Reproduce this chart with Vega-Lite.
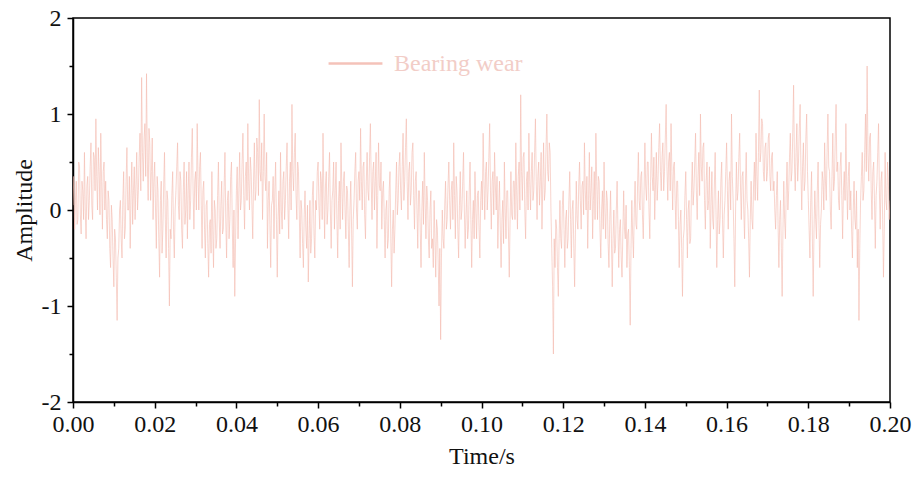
{
  "$schema": "https://vega.github.io/schema/vega-lite/v6.json",
  "width": 817,
  "height": 384,
  "autosize": {"type": "none"},
  "padding": {"left": 73, "top": 18, "right": 26, "bottom": 75},
  "background": "white",
  "config": {
    "view": {"stroke": "black", "strokeWidth": 1.5},
    "font": "Liberation Serif",
    "axis": {
      "labelFont": "Liberation Serif",
      "titleFont": "Liberation Serif",
      "labelFontSize": 24,
      "titleFontSize": 24,
      "titleFontWeight": "normal",
      "labelColor": "#111",
      "titleColor": "#111",
      "domainColor": "black",
      "domainWidth": 1.5,
      "tickColor": "black",
      "tickWidth": 1.5,
      "grid": false
    }
  },
  "datasets": {
    "signal": [
{"t":0.0000,"a":0.05},{"t":0.0002,"a":0.35},{"t":0.0004,"a":-0.2},{"t":0.0006,"a":0.1},{"t":0.0008,"a":0.3},{"t":0.0010,"a":-0.15},{"t":0.0012,"a":-0.1},{"t":0.0014,"a":0.5},{"t":0.0016,"a":0.45},{"t":0.0018,"a":-0.05},{"t":0.0020,"a":-0.25},{"t":0.0022,"a":0.3},{"t":0.0024,"a":0.2},{"t":0.0026,"a":-0.1},{"t":0.0028,"a":0.6},{"t":0.0030,"a":0.0},{"t":0.0032,"a":-0.3},{"t":0.0034,"a":0.25},{"t":0.0036,"a":0.35},{"t":0.0038,"a":-0.1},
{"t":0.0040,"a":0.1},{"t":0.0042,"a":0.45},{"t":0.0044,"a":0.7},{"t":0.0046,"a":0.05},{"t":0.0048,"a":-0.1},{"t":0.0050,"a":0.6},{"t":0.0052,"a":0.55},{"t":0.0054,"a":0.2},{"t":0.0056,"a":0.95},{"t":0.0058,"a":0.35},{"t":0.0060,"a":0.0},{"t":0.0062,"a":0.65},{"t":0.0064,"a":0.4},{"t":0.0066,"a":-0.05},{"t":0.0068,"a":0.8},{"t":0.0070,"a":0.3},{"t":0.0072,"a":-0.2},{"t":0.0074,"a":0.4},{"t":0.0076,"a":0.5},{"t":0.0078,"a":0.0},
{"t":0.0080,"a":0.3},{"t":0.0082,"a":-0.1},{"t":0.0084,"a":-0.3},{"t":0.0086,"a":0.2},{"t":0.0088,"a":0.1},{"t":0.0090,"a":-0.4},{"t":0.0092,"a":-0.6},{"t":0.0094,"a":0.05},{"t":0.0096,"a":-0.1},{"t":0.0098,"a":-0.5},{"t":0.0100,"a":-0.8},{"t":0.0102,"a":-0.2},{"t":0.0104,"a":-0.3},{"t":0.0106,"a":-0.7},{"t":0.0108,"a":-1.15},{"t":0.0110,"a":-0.5},{"t":0.0112,"a":-0.4},{"t":0.0114,"a":0.0},{"t":0.0116,"a":0.1},{"t":0.0118,"a":-0.3},
{"t":0.0120,"a":-0.5},{"t":0.0122,"a":0.1},{"t":0.0124,"a":0.4},{"t":0.0126,"a":-0.3},{"t":0.0128,"a":-0.2},{"t":0.0130,"a":0.3},{"t":0.0132,"a":0.65},{"t":0.0134,"a":0.0},{"t":0.0136,"a":0.0},{"t":0.0138,"a":0.35},{"t":0.0140,"a":-0.4},{"t":0.0142,"a":0.15},{"t":0.0144,"a":0.5},{"t":0.0146,"a":-0.15},{"t":0.0148,"a":0.2},{"t":0.0150,"a":0.45},{"t":0.0152,"a":-0.1},{"t":0.0154,"a":0.25},{"t":0.0156,"a":0.6},{"t":0.0158,"a":0.0},
{"t":0.0160,"a":0.2},{"t":0.0162,"a":0.55},{"t":0.0164,"a":0.8},{"t":0.0166,"a":0.2},{"t":0.0168,"a":1.38},{"t":0.0170,"a":0.6},{"t":0.0172,"a":0.3},{"t":0.0174,"a":0.75},{"t":0.0176,"a":0.9},{"t":0.0178,"a":0.35},{"t":0.0180,"a":1.42},{"t":0.0182,"a":0.5},{"t":0.0184,"a":0.1},{"t":0.0186,"a":0.85},{"t":0.0188,"a":0.7},{"t":0.0190,"a":0.1},{"t":0.0192,"a":0.4},{"t":0.0194,"a":0.75},{"t":0.0196,"a":-0.1},{"t":0.0198,"a":0.3},
{"t":0.0200,"a":0.5},{"t":0.0202,"a":0.0},{"t":0.0204,"a":-0.4},{"t":0.0206,"a":0.35},{"t":0.0208,"a":0.2},{"t":0.0210,"a":-0.3},{"t":0.0212,"a":-0.7},{"t":0.0214,"a":0.1},{"t":0.0216,"a":0.3},{"t":0.0218,"a":-0.45},{"t":0.0220,"a":-0.2},{"t":0.0222,"a":0.25},{"t":0.0224,"a":0.6},{"t":0.0226,"a":-0.1},{"t":0.0228,"a":-0.5},{"t":0.0230,"a":0.2},{"t":0.0232,"a":0.1},{"t":0.0234,"a":-0.4},{"t":0.0236,"a":-1.0},{"t":0.0238,"a":-0.2},
{"t":0.0240,"a":-0.3},{"t":0.0242,"a":0.15},{"t":0.0244,"a":0.4},{"t":0.0246,"a":-0.2},{"t":0.0248,"a":-0.5},{"t":0.0250,"a":0.0},{"t":0.0252,"a":0.2},{"t":0.0254,"a":0.45},{"t":0.0256,"a":0.7},{"t":0.0258,"a":0.05},{"t":0.0260,"a":-0.1},{"t":0.0262,"a":0.4},{"t":0.0264,"a":0.3},{"t":0.0266,"a":-0.2},{"t":0.0268,"a":-0.4},{"t":0.0270,"a":0.2},{"t":0.0272,"a":0.5},{"t":0.0274,"a":-0.15},{"t":0.0276,"a":0.0},{"t":0.0278,"a":0.4},
{"t":0.0280,"a":-0.3},{"t":0.0282,"a":0.2},{"t":0.0284,"a":0.5},{"t":0.0286,"a":-0.1},{"t":0.0288,"a":0.1},{"t":0.0290,"a":0.55},{"t":0.0292,"a":0.85},{"t":0.0294,"a":0.2},{"t":0.0296,"a":-0.2},{"t":0.0298,"a":0.3},{"t":0.0300,"a":0.4},{"t":0.0302,"a":0.0},{"t":0.0304,"a":0.9},{"t":0.0306,"a":0.35},{"t":0.0308,"a":0.0},{"t":0.0310,"a":0.45},{"t":0.0312,"a":0.6},{"t":0.0314,"a":0.05},{"t":0.0316,"a":-0.4},{"t":0.0318,"a":0.2},
{"t":0.0320,"a":0.3},{"t":0.0322,"a":-0.2},{"t":0.0324,"a":-0.5},{"t":0.0326,"a":0.05},{"t":0.0328,"a":0.1},{"t":0.0330,"a":-0.35},{"t":0.0332,"a":-0.7},{"t":0.0334,"a":-0.15},{"t":0.0336,"a":-0.1},{"t":0.0338,"a":-0.45},{"t":0.0340,"a":0.4},{"t":0.0342,"a":-0.2},{"t":0.0344,"a":-0.6},{"t":0.0346,"a":0.1},{"t":0.0348,"a":0.0},{"t":0.0350,"a":-0.4},{"t":0.0352,"a":-0.3},{"t":0.0354,"a":0.15},{"t":0.0356,"a":0.5},{"t":0.0358,"a":-0.1},
{"t":0.0360,"a":-0.4},{"t":0.0362,"a":0.05},{"t":0.0364,"a":0.3},{"t":0.0366,"a":-0.25},{"t":0.0368,"a":-0.2},{"t":0.0370,"a":0.25},{"t":0.0372,"a":0.6},{"t":0.0374,"a":-0.1},{"t":0.0376,"a":-0.5},{"t":0.0378,"a":0.1},{"t":0.0380,"a":0.2},{"t":0.0382,"a":-0.3},{"t":0.0384,"a":-0.1},{"t":0.0386,"a":0.35},{"t":0.0388,"a":0.5},{"t":0.0390,"a":-0.2},{"t":0.0392,"a":-0.6},{"t":0.0394,"a":0.0},{"t":0.0396,"a":-0.9},{"t":0.0398,"a":-0.3},
{"t":0.0400,"a":0.2},{"t":0.0402,"a":0.45},{"t":0.0404,"a":-0.3},{"t":0.0406,"a":0.2},{"t":0.0408,"a":0.6},{"t":0.0410,"a":0.0},{"t":0.0412,"a":0.1},{"t":0.0414,"a":0.5},{"t":0.0416,"a":0.8},{"t":0.0418,"a":0.15},{"t":0.0420,"a":-0.2},{"t":0.0422,"a":0.35},{"t":0.0424,"a":0.5},{"t":0.0426,"a":0.1},{"t":0.0428,"a":0.9},{"t":0.0430,"a":0.3},{"t":0.0432,"a":0.0},{"t":0.0434,"a":0.55},{"t":0.0436,"a":0.4},{"t":0.0438,"a":0.05},
{"t":0.0440,"a":-0.3},{"t":0.0442,"a":0.3},{"t":0.0444,"a":0.7},{"t":0.0446,"a":0.1},{"t":0.0448,"a":0.2},{"t":0.0450,"a":0.75},{"t":0.0452,"a":0.6},{"t":0.0454,"a":0.15},{"t":0.0456,"a":1.15},{"t":0.0458,"a":0.4},{"t":0.0460,"a":0.3},{"t":0.0462,"a":0.7},{"t":0.0464,"a":-0.1},{"t":0.0466,"a":0.4},{"t":0.0468,"a":1.0},{"t":0.0470,"a":0.35},{"t":0.0472,"a":0.2},{"t":0.0474,"a":0.6},{"t":0.0476,"a":-0.4},{"t":0.0478,"a":0.1},
{"t":0.0480,"a":0.3},{"t":0.0482,"a":-0.15},{"t":0.0484,"a":-0.6},{"t":0.0486,"a":0.05},{"t":0.0488,"a":0.1},{"t":0.0490,"a":0.35},{"t":0.0492,"a":-0.3},{"t":0.0494,"a":0.2},{"t":0.0496,"a":0.5},{"t":0.0498,"a":-0.1},{"t":0.0500,"a":-0.7},{"t":0.0502,"a":-0.1},{"t":0.0504,"a":0.2},{"t":0.0506,"a":-0.25},{"t":0.0508,"a":0.6},{"t":0.0510,"a":0.0},{"t":0.0512,"a":-0.2},{"t":0.0514,"a":0.3},{"t":0.0516,"a":0.4},{"t":0.0518,"a":-0.1},
{"t":0.0520,"a":0.1},{"t":0.0522,"a":0.45},{"t":0.0524,"a":0.7},{"t":0.0526,"a":0.05},{"t":0.0528,"a":-0.3},{"t":0.0530,"a":0.3},{"t":0.0532,"a":0.5},{"t":0.0534,"a":0.0},{"t":0.0536,"a":1.1},{"t":0.0538,"a":0.4},{"t":0.0540,"a":0.2},{"t":0.0542,"a":0.6},{"t":0.0544,"a":0.8},{"t":0.0546,"a":0.15},{"t":0.0548,"a":-0.1},{"t":0.0550,"a":0.5},{"t":0.0552,"a":0.4},{"t":0.0554,"a":-0.05},{"t":0.0556,"a":-0.5},{"t":0.0558,"a":0.1},
{"t":0.0560,"a":0.0},{"t":0.0562,"a":-0.35},{"t":0.0564,"a":-0.6},{"t":0.0566,"a":-0.05},{"t":0.0568,"a":0.2},{"t":0.0570,"a":-0.2},{"t":0.0572,"a":-0.4},{"t":0.0574,"a":0.05},{"t":0.0576,"a":-0.75},{"t":0.0578,"a":-0.3},{"t":0.0580,"a":0.1},{"t":0.0582,"a":-0.45},{"t":0.0584,"a":-0.3},{"t":0.0586,"a":0.15},{"t":0.0588,"a":0.3},{"t":0.0590,"a":-0.25},{"t":0.0592,"a":-0.5},{"t":0.0594,"a":0.1},{"t":0.0596,"a":0.0},{"t":0.0598,"a":0.4},
{"t":0.0600,"a":0.5},{"t":0.0602,"a":0.05},{"t":0.0604,"a":-0.2},{"t":0.0606,"a":0.4},{"t":0.0608,"a":0.3},{"t":0.0610,"a":-0.1},{"t":0.0612,"a":0.8},{"t":0.0614,"a":0.2},{"t":0.0616,"a":-0.3},{"t":0.0618,"a":0.25},{"t":0.0620,"a":0.4},{"t":0.0622,"a":-0.15},{"t":0.0624,"a":0.0},{"t":0.0626,"a":0.35},{"t":0.0628,"a":0.6},{"t":0.0630,"a":0.0},{"t":0.0632,"a":-0.4},{"t":0.0634,"a":0.1},{"t":0.0636,"a":0.2},{"t":0.0638,"a":0.5},
{"t":0.0640,"a":-0.2},{"t":0.0642,"a":0.2},{"t":0.0644,"a":0.5},{"t":0.0646,"a":-0.1},{"t":0.0648,"a":-0.5},{"t":0.0650,"a":0.1},{"t":0.0652,"a":0.3},{"t":0.0654,"a":-0.2},{"t":0.0656,"a":0.7},{"t":0.0658,"a":0.25},{"t":0.0660,"a":-0.1},{"t":0.0662,"a":0.3},{"t":0.0664,"a":0.4},{"t":0.0666,"a":0.0},{"t":0.0668,"a":-0.3},{"t":0.0670,"a":0.25},{"t":0.0672,"a":0.2},{"t":0.0674,"a":-0.2},{"t":0.0676,"a":-0.6},{"t":0.0678,"a":0.0},
{"t":0.0680,"a":0.3},{"t":0.0682,"a":-0.2},{"t":0.0684,"a":-0.8},{"t":0.0686,"a":-0.1},{"t":0.0688,"a":0.1},{"t":0.0690,"a":0.4},{"t":0.0692,"a":0.6},{"t":0.0694,"a":0.0},{"t":0.0696,"a":-0.2},{"t":0.0698,"a":0.3},{"t":0.0700,"a":0.4},{"t":0.0702,"a":0.1},{"t":0.0704,"a":0.85},{"t":0.0706,"a":0.3},{"t":0.0708,"a":0.0},{"t":0.0710,"a":0.45},{"t":0.0712,"a":0.5},{"t":0.0714,"a":-0.05},{"t":0.0716,"a":-0.3},{"t":0.0718,"a":0.3},
{"t":0.0720,"a":0.6},{"t":0.0722,"a":0.2},{"t":0.0724,"a":0.1},{"t":0.0726,"a":0.55},{"t":0.0728,"a":0.9},{"t":0.0730,"a":0.3},{"t":0.0732,"a":-0.1},{"t":0.0734,"a":0.4},{"t":0.0736,"a":0.5},{"t":0.0738,"a":0.0},{"t":0.0740,"a":0.3},{"t":0.0742,"a":0.6},{"t":0.0744,"a":-0.4},{"t":0.0746,"a":0.15},{"t":0.0748,"a":0.7},{"t":0.0750,"a":0.25},{"t":0.0752,"a":0.2},{"t":0.0754,"a":0.5},{"t":0.0756,"a":-0.2},{"t":0.0758,"a":0.2},
{"t":0.0760,"a":0.3},{"t":0.0762,"a":-0.1},{"t":0.0764,"a":-0.5},{"t":0.0766,"a":0.0},{"t":0.0768,"a":0.1},{"t":0.0770,"a":-0.4},{"t":0.0772,"a":-0.3},{"t":0.0774,"a":0.2},{"t":0.0776,"a":0.4},{"t":0.0778,"a":-0.3},{"t":0.0780,"a":-0.8},{"t":0.0782,"a":-0.2},{"t":0.0784,"a":0.0},{"t":0.0786,"a":-0.45},{"t":0.0788,"a":-0.2},{"t":0.0790,"a":0.2},{"t":0.0792,"a":0.5},{"t":0.0794,"a":-0.05},{"t":0.0796,"a":0.1},{"t":0.0798,"a":0.45},
{"t":0.0800,"a":0.6},{"t":0.0802,"a":0.2},{"t":0.0804,"a":0.0},{"t":0.0806,"a":0.45},{"t":0.0808,"a":0.8},{"t":0.0810,"a":0.1},{"t":0.0812,"a":0.3},{"t":0.0814,"a":0.65},{"t":0.0816,"a":0.95},{"t":0.0818,"a":0.3},{"t":0.0820,"a":-0.1},{"t":0.0822,"a":0.4},{"t":0.0824,"a":0.5},{"t":0.0826,"a":0.05},{"t":0.0828,"a":0.2},{"t":0.0830,"a":0.6},{"t":0.0832,"a":0.7},{"t":0.0834,"a":0.15},{"t":0.0836,"a":-0.2},{"t":0.0838,"a":0.3},
{"t":0.0840,"a":0.4},{"t":0.0842,"a":0.0},{"t":0.0844,"a":-0.4},{"t":0.0846,"a":0.2},{"t":0.0848,"a":0.2},{"t":0.0850,"a":-0.2},{"t":0.0852,"a":-0.6},{"t":0.0854,"a":0.0},{"t":0.0856,"a":0.3},{"t":0.0858,"a":-0.15},{"t":0.0860,"a":0.6},{"t":0.0862,"a":0.1},{"t":0.0864,"a":-0.3},{"t":0.0866,"a":0.25},{"t":0.0868,"a":0.1},{"t":0.0870,"a":-0.3},{"t":0.0872,"a":-0.5},{"t":0.0874,"a":0.0},{"t":0.0876,"a":0.2},{"t":0.0878,"a":-0.4},
{"t":0.0880,"a":-0.3},{"t":0.0882,"a":-0.6},{"t":0.0884,"a":0.1},{"t":0.0886,"a":-0.3},{"t":0.0888,"a":-0.7},{"t":0.0890,"a":-0.1},{"t":0.0892,"a":-0.2},{"t":0.0894,"a":-0.55},{"t":0.0896,"a":-1.0},{"t":0.0898,"a":-0.4},{"t":0.0900,"a":-1.35},{"t":0.0902,"a":-0.5},{"t":0.0904,"a":0.0},{"t":0.0906,"a":-0.3},{"t":0.0908,"a":-0.4},{"t":0.0910,"a":0.05},{"t":0.0912,"a":0.3},{"t":0.0914,"a":-0.2},{"t":0.0916,"a":-0.1},{"t":0.0918,"a":0.25},
{"t":0.0920,"a":0.5},{"t":0.0922,"a":0.1},{"t":0.0924,"a":-0.2},{"t":0.0926,"a":0.2},{"t":0.0928,"a":0.3},{"t":0.0930,"a":-0.1},{"t":0.0932,"a":0.7},{"t":0.0934,"a":0.15},{"t":0.0936,"a":-0.3},{"t":0.0938,"a":0.35},{"t":0.0940,"a":0.2},{"t":0.0942,"a":-0.2},{"t":0.0944,"a":-0.5},{"t":0.0946,"a":0.05},{"t":0.0948,"a":0.4},{"t":0.0950,"a":-0.1},{"t":0.0952,"a":0.0},{"t":0.0954,"a":0.3},{"t":0.0956,"a":0.6},{"t":0.0958,"a":0.0},
{"t":0.0960,"a":-0.4},{"t":0.0962,"a":-0.05},{"t":0.0964,"a":0.2},{"t":0.0966,"a":-0.3},{"t":0.0968,"a":-0.2},{"t":0.0970,"a":0.2},{"t":0.0972,"a":0.5},{"t":0.0974,"a":-0.1},{"t":0.0976,"a":-0.6},{"t":0.0978,"a":-0.1},{"t":0.0980,"a":0.1},{"t":0.0982,"a":-0.3},{"t":0.0984,"a":0.4},{"t":0.0986,"a":0.0},{"t":0.0988,"a":-0.3},{"t":0.0990,"a":0.15},{"t":0.0992,"a":0.2},{"t":0.0994,"a":-0.2},{"t":0.0996,"a":-0.5},{"t":0.0998,"a":0.1},
{"t":0.1000,"a":0.3},{"t":0.1002,"a":0.0},{"t":0.1004,"a":0.8},{"t":0.1006,"a":0.3},{"t":0.1008,"a":-0.1},{"t":0.1010,"a":0.4},{"t":0.1012,"a":0.5},{"t":0.1014,"a":0.0},{"t":0.1016,"a":0.2},{"t":0.1018,"a":0.55},{"t":0.1020,"a":0.9},{"t":0.1022,"a":0.2},{"t":0.1024,"a":-0.2},{"t":0.1026,"a":0.3},{"t":0.1028,"a":0.4},{"t":0.1030,"a":-0.05},{"t":0.1032,"a":0.6},{"t":0.1034,"a":0.25},{"t":0.1036,"a":0.0},{"t":0.1038,"a":0.35},
{"t":0.1040,"a":-0.4},{"t":0.1042,"a":0.0},{"t":0.1044,"a":0.3},{"t":0.1046,"a":-0.2},{"t":0.1048,"a":-0.6},{"t":0.1050,"a":-0.1},{"t":0.1052,"a":0.1},{"t":0.1054,"a":-0.35},{"t":0.1056,"a":0.5},{"t":0.1058,"a":0.0},{"t":0.1060,"a":-0.3},{"t":0.1062,"a":0.2},{"t":0.1064,"a":0.2},{"t":0.1066,"a":-0.25},{"t":0.1068,"a":-0.7},{"t":0.1070,"a":-0.1},{"t":0.1072,"a":0.4},{"t":0.1074,"a":-0.05},{"t":0.1076,"a":-0.1},{"t":0.1078,"a":0.3},
{"t":0.1080,"a":0.3},{"t":0.1082,"a":-0.1},{"t":0.1084,"a":0.7},{"t":0.1086,"a":0.2},{"t":0.1088,"a":-0.2},{"t":0.1090,"a":0.35},{"t":0.1092,"a":0.5},{"t":0.1094,"a":0.0},{"t":0.1096,"a":1.2},{"t":0.1098,"a":0.4},{"t":0.1100,"a":0.1},{"t":0.1102,"a":0.55},{"t":0.1104,"a":0.6},{"t":0.1106,"a":0.0},{"t":0.1108,"a":-0.3},{"t":0.1110,"a":0.3},{"t":0.1112,"a":0.4},{"t":0.1114,"a":0.0},{"t":0.1116,"a":0.8},{"t":0.1118,"a":0.3},
{"t":0.1120,"a":0.0},{"t":0.1122,"a":0.4},{"t":0.1124,"a":0.6},{"t":0.1126,"a":0.1},{"t":0.1128,"a":0.2},{"t":0.1130,"a":0.6},{"t":0.1132,"a":0.95},{"t":0.1134,"a":0.3},{"t":0.1136,"a":-0.1},{"t":0.1138,"a":0.35},{"t":0.1140,"a":0.5},{"t":0.1142,"a":0.05},{"t":0.1144,"a":0.3},{"t":0.1146,"a":0.6},{"t":0.1148,"a":-0.2},{"t":0.1150,"a":0.25},{"t":0.1152,"a":0.7},{"t":0.1154,"a":0.1},{"t":0.1156,"a":0.2},{"t":0.1158,"a":0.65},
{"t":0.1160,"a":1.0},{"t":0.1162,"a":0.4},{"t":0.1164,"a":0.3},{"t":0.1166,"a":0.7},{"t":0.1168,"a":0.6},{"t":0.1170,"a":0.0},{"t":0.1172,"a":-0.4},{"t":0.1174,"a":-0.8},{"t":0.1176,"a":-1.5},{"t":0.1178,"a":-0.3},{"t":0.1180,"a":-0.6},{"t":0.1182,"a":-0.1},{"t":0.1184,"a":-0.2},{"t":0.1186,"a":-0.6},{"t":0.1188,"a":-0.9},{"t":0.1190,"a":-0.3},{"t":0.1192,"a":0.1},{"t":0.1194,"a":-0.3},{"t":0.1196,"a":-0.4},{"t":0.1198,"a":0.05},
{"t":0.1200,"a":0.2},{"t":0.1202,"a":-0.2},{"t":0.1204,"a":-0.6},{"t":0.1206,"a":-0.1},{"t":0.1208,"a":0.0},{"t":0.1210,"a":-0.4},{"t":0.1212,"a":-0.3},{"t":0.1214,"a":0.1},{"t":0.1216,"a":0.4},{"t":0.1218,"a":-0.1},{"t":0.1220,"a":-0.5},{"t":0.1222,"a":0.0},{"t":0.1224,"a":0.1},{"t":0.1226,"a":-0.4},{"t":0.1228,"a":-0.8},{"t":0.1230,"a":-0.2},{"t":0.1232,"a":0.3},{"t":0.1234,"a":-0.1},{"t":0.1236,"a":-0.2},{"t":0.1238,"a":0.25},
{"t":0.1240,"a":0.5},{"t":0.1242,"a":0.1},{"t":0.1244,"a":-0.2},{"t":0.1246,"a":0.25},{"t":0.1248,"a":0.3},{"t":0.1250,"a":-0.05},{"t":0.1252,"a":0.7},{"t":0.1254,"a":0.2},{"t":0.1256,"a":0.0},{"t":0.1258,"a":0.35},{"t":0.1260,"a":-0.4},{"t":0.1262,"a":0.1},{"t":0.1264,"a":0.6},{"t":0.1266,"a":0.0},{"t":0.1268,"a":0.2},{"t":0.1270,"a":0.45},{"t":0.1272,"a":-0.3},{"t":0.1274,"a":0.1},{"t":0.1276,"a":0.4},{"t":0.1278,"a":-0.1},
{"t":0.1280,"a":0.8},{"t":0.1282,"a":0.3},{"t":0.1284,"a":-0.1},{"t":0.1286,"a":0.35},{"t":0.1288,"a":0.3},{"t":0.1290,"a":-0.2},{"t":0.1292,"a":-0.5},{"t":0.1294,"a":0.0},{"t":0.1296,"a":0.2},{"t":0.1298,"a":-0.2},{"t":0.1300,"a":0.5},{"t":0.1302,"a":0.0},{"t":0.1304,"a":-0.3},{"t":0.1306,"a":0.2},{"t":0.1308,"a":0.1},{"t":0.1310,"a":-0.35},{"t":0.1312,"a":-0.6},{"t":0.1314,"a":-0.1},{"t":0.1316,"a":0.2},{"t":0.1318,"a":-0.3},
{"t":0.1320,"a":-0.8},{"t":0.1322,"a":-0.3},{"t":0.1324,"a":0.0},{"t":0.1326,"a":-0.45},{"t":0.1328,"a":-0.4},{"t":0.1330,"a":0.0},{"t":0.1332,"a":0.3},{"t":0.1334,"a":-0.2},{"t":0.1336,"a":-0.6},{"t":0.1338,"a":-0.2},{"t":0.1340,"a":-0.1},{"t":0.1342,"a":-0.5},{"t":0.1344,"a":-0.7},{"t":0.1346,"a":-0.25},{"t":0.1348,"a":0.2},{"t":0.1350,"a":-0.2},{"t":0.1352,"a":-0.3},{"t":0.1354,"a":0.05},{"t":0.1356,"a":-0.6},{"t":0.1358,"a":-0.25},
{"t":0.1360,"a":-0.2},{"t":0.1362,"a":-0.6},{"t":0.1364,"a":-1.2},{"t":0.1366,"a":-0.4},{"t":0.1368,"a":0.1},{"t":0.1370,"a":-0.25},{"t":0.1372,"a":-0.5},{"t":0.1374,"a":0.0},{"t":0.1376,"a":0.3},{"t":0.1378,"a":-0.15},{"t":0.1380,"a":-0.2},{"t":0.1382,"a":0.25},{"t":0.1384,"a":0.6},{"t":0.1386,"a":0.1},{"t":0.1388,"a":0.0},{"t":0.1390,"a":0.35},{"t":0.1392,"a":0.4},{"t":0.1394,"a":-0.05},{"t":0.1396,"a":-0.3},{"t":0.1398,"a":0.2},
{"t":0.1400,"a":0.7},{"t":0.1402,"a":0.25},{"t":0.1404,"a":0.1},{"t":0.1406,"a":0.5},{"t":0.1408,"a":0.5},{"t":0.1410,"a":0.0},{"t":0.1412,"a":-0.3},{"t":0.1414,"a":0.3},{"t":0.1416,"a":0.8},{"t":0.1418,"a":0.35},{"t":0.1420,"a":0.2},{"t":0.1422,"a":0.55},{"t":0.1424,"a":-0.1},{"t":0.1426,"a":0.25},{"t":0.1428,"a":0.6},{"t":0.1430,"a":0.1},{"t":0.1432,"a":0.3},{"t":0.1434,"a":0.65},{"t":0.1436,"a":0.9},{"t":0.1438,"a":0.4},
{"t":0.1440,"a":0.2},{"t":0.1442,"a":0.55},{"t":0.1444,"a":0.7},{"t":0.1446,"a":0.2},{"t":0.1448,"a":0.4},{"t":0.1450,"a":0.75},{"t":0.1452,"a":1.1},{"t":0.1454,"a":0.45},{"t":0.1456,"a":0.1},{"t":0.1458,"a":0.5},{"t":0.1460,"a":0.6},{"t":0.1462,"a":0.2},{"t":0.1464,"a":0.9},{"t":0.1466,"a":0.4},{"t":0.1468,"a":0.0},{"t":0.1470,"a":0.45},{"t":0.1472,"a":0.5},{"t":0.1474,"a":0.1},{"t":0.1476,"a":-0.2},{"t":0.1478,"a":0.3},
{"t":0.1480,"a":0.3},{"t":0.1482,"a":-0.1},{"t":0.1484,"a":-0.6},{"t":0.1486,"a":-0.15},{"t":0.1488,"a":0.0},{"t":0.1490,"a":-0.4},{"t":0.1492,"a":-0.9},{"t":0.1494,"a":-0.3},{"t":0.1496,"a":-0.2},{"t":0.1498,"a":0.15},{"t":0.1500,"a":0.4},{"t":0.1502,"a":-0.1},{"t":0.1504,"a":-0.5},{"t":0.1506,"a":0.0},{"t":0.1508,"a":0.1},{"t":0.1510,"a":-0.35},{"t":0.1512,"a":-0.3},{"t":0.1514,"a":0.2},{"t":0.1516,"a":0.5},{"t":0.1518,"a":0.05},
{"t":0.1520,"a":0.2},{"t":0.1522,"a":0.5},{"t":0.1524,"a":0.8},{"t":0.1526,"a":0.2},{"t":0.1528,"a":-0.1},{"t":0.1530,"a":0.35},{"t":0.1532,"a":0.6},{"t":0.1534,"a":0.15},{"t":0.1536,"a":1.0},{"t":0.1538,"a":0.45},{"t":0.1540,"a":0.3},{"t":0.1542,"a":0.65},{"t":0.1544,"a":0.7},{"t":0.1546,"a":0.1},{"t":0.1548,"a":-0.2},{"t":0.1550,"a":0.3},{"t":0.1552,"a":0.5},{"t":0.1554,"a":0.0},{"t":0.1556,"a":0.1},{"t":0.1558,"a":0.45},
{"t":0.1560,"a":-0.4},{"t":0.1562,"a":0.05},{"t":0.1564,"a":0.4},{"t":0.1566,"a":-0.1},{"t":0.1568,"a":-0.2},{"t":0.1570,"a":0.25},{"t":0.1572,"a":0.6},{"t":0.1574,"a":0.0},{"t":0.1576,"a":-0.6},{"t":0.1578,"a":-0.1},{"t":0.1580,"a":0.2},{"t":0.1582,"a":-0.25},{"t":0.1584,"a":-0.1},{"t":0.1586,"a":0.3},{"t":0.1588,"a":0.5},{"t":0.1590,"a":-0.1},{"t":0.1592,"a":-0.5},{"t":0.1594,"a":-0.05},{"t":0.1596,"a":0.1},{"t":0.1598,"a":0.4},
{"t":0.1600,"a":0.7},{"t":0.1602,"a":0.2},{"t":0.1604,"a":-0.2},{"t":0.1606,"a":0.3},{"t":0.1608,"a":0.4},{"t":0.1610,"a":0.0},{"t":0.1612,"a":1.0},{"t":0.1614,"a":0.35},{"t":0.1616,"a":0.1},{"t":0.1618,"a":-0.3},{"t":0.1620,"a":-0.8},{"t":0.1622,"a":0.0},{"t":0.1624,"a":0.5},{"t":0.1626,"a":0.1},{"t":0.1628,"a":0.2},{"t":0.1630,"a":0.55},{"t":0.1632,"a":0.8},{"t":0.1634,"a":0.25},{"t":0.1636,"a":-0.1},{"t":0.1638,"a":0.35},
{"t":0.1640,"a":0.4},{"t":0.1642,"a":0.0},{"t":0.1644,"a":-0.3},{"t":0.1646,"a":0.25},{"t":0.1648,"a":0.6},{"t":0.1650,"a":0.1},{"t":0.1652,"a":0.0},{"t":0.1654,"a":-0.3},{"t":0.1656,"a":-0.7},{"t":0.1658,"a":-0.1},{"t":0.1660,"a":0.3},{"t":0.1662,"a":-0.1},{"t":0.1664,"a":-0.2},{"t":0.1666,"a":0.25},{"t":0.1668,"a":0.5},{"t":0.1670,"a":0.1},{"t":0.1672,"a":0.8},{"t":0.1674,"a":0.35},{"t":0.1676,"a":0.1},{"t":0.1678,"a":0.6},
{"t":0.1680,"a":1.25},{"t":0.1682,"a":0.5},{"t":0.1684,"a":0.6},{"t":0.1686,"a":0.95},{"t":0.1688,"a":0.9},{"t":0.1690,"a":0.4},{"t":0.1692,"a":0.3},{"t":0.1694,"a":0.65},{"t":0.1696,"a":0.7},{"t":0.1698,"a":0.3},{"t":0.1700,"a":0.4},{"t":0.1702,"a":0.75},{"t":0.1704,"a":0.8},{"t":0.1706,"a":0.35},{"t":0.1708,"a":0.2},{"t":0.1710,"a":0.55},{"t":0.1712,"a":0.6},{"t":0.1714,"a":0.2},{"t":0.1716,"a":0.3},{"t":0.1718,"a":0.0},
{"t":0.1720,"a":-0.2},{"t":0.1722,"a":0.15},{"t":0.1724,"a":0.4},{"t":0.1726,"a":-0.15},{"t":0.1728,"a":-0.6},{"t":0.1730,"a":-0.1},{"t":0.1732,"a":0.1},{"t":0.1734,"a":-0.4},{"t":0.1736,"a":-0.9},{"t":0.1738,"a":-0.2},{"t":0.1740,"a":0.3},{"t":0.1742,"a":-0.1},{"t":0.1744,"a":-0.3},{"t":0.1746,"a":0.2},{"t":0.1748,"a":0.5},{"t":0.1750,"a":0.0},{"t":0.1752,"a":0.2},{"t":0.1754,"a":0.55},{"t":0.1756,"a":0.8},{"t":0.1758,"a":0.3},
{"t":0.1760,"a":0.4},{"t":0.1762,"a":0.8},{"t":0.1764,"a":1.3},{"t":0.1766,"a":0.5},{"t":0.1768,"a":0.2},{"t":0.1770,"a":0.6},{"t":0.1772,"a":0.9},{"t":0.1774,"a":0.3},{"t":0.1776,"a":0.5},{"t":0.1778,"a":0.85},{"t":0.1780,"a":1.1},{"t":0.1782,"a":0.4},{"t":0.1784,"a":0.0},{"t":0.1786,"a":0.45},{"t":0.1788,"a":0.7},{"t":0.1790,"a":0.2},{"t":0.1792,"a":0.3},{"t":0.1794,"a":0.75},{"t":0.1796,"a":1.0},{"t":0.1798,"a":0.4},
{"t":0.1800,"a":0.1},{"t":0.1802,"a":-0.2},{"t":0.1804,"a":-0.5},{"t":0.1806,"a":0.1},{"t":0.1808,"a":0.4},{"t":0.1810,"a":-0.3},{"t":0.1812,"a":-0.9},{"t":0.1814,"a":-0.2},{"t":0.1816,"a":0.2},{"t":0.1818,"a":-0.1},{"t":0.1820,"a":-0.3},{"t":0.1822,"a":0.2},{"t":0.1824,"a":0.5},{"t":0.1826,"a":-0.1},{"t":0.1828,"a":-0.6},{"t":0.1830,"a":-0.15},{"t":0.1832,"a":0.0},{"t":0.1834,"a":0.4},{"t":0.1836,"a":0.3},{"t":0.1838,"a":0.0},
{"t":0.1840,"a":0.7},{"t":0.1842,"a":0.3},{"t":0.1844,"a":0.1},{"t":0.1846,"a":0.6},{"t":0.1848,"a":1.0},{"t":0.1850,"a":0.45},{"t":0.1852,"a":0.4},{"t":0.1854,"a":0.0},{"t":0.1856,"a":-0.2},{"t":0.1858,"a":0.35},{"t":0.1860,"a":0.8},{"t":0.1862,"a":0.2},{"t":0.1864,"a":0.3},{"t":0.1866,"a":0.75},{"t":0.1868,"a":1.1},{"t":0.1870,"a":0.4},{"t":0.1872,"a":0.5},{"t":0.1874,"a":0.1},{"t":0.1876,"a":0.0},{"t":0.1878,"a":0.45},
{"t":0.1880,"a":0.6},{"t":0.1882,"a":0.15},{"t":0.1884,"a":-0.3},{"t":0.1886,"a":0.2},{"t":0.1888,"a":0.4},{"t":0.1890,"a":0.1},{"t":0.1892,"a":0.9},{"t":0.1894,"a":0.3},{"t":0.1896,"a":-0.1},{"t":0.1898,"a":0.35},{"t":0.1900,"a":0.5},{"t":0.1902,"a":0.0},{"t":0.1904,"a":0.2},{"t":0.1906,"a":-0.2},{"t":0.1908,"a":-0.5},{"t":0.1910,"a":0.0},{"t":0.1912,"a":0.3},{"t":0.1914,"a":-0.1},{"t":0.1916,"a":-0.2},{"t":0.1918,"a":0.2},
{"t":0.1920,"a":-0.6},{"t":0.1922,"a":-0.2},{"t":0.1924,"a":-1.15},{"t":0.1926,"a":-0.4},{"t":0.1928,"a":0.1},{"t":0.1930,"a":0.35},{"t":0.1932,"a":0.6},{"t":0.1934,"a":0.1},{"t":0.1936,"a":0.2},{"t":0.1938,"a":0.6},{"t":0.1940,"a":1.0},{"t":0.1942,"a":0.4},{"t":0.1944,"a":1.5},{"t":0.1946,"a":0.6},{"t":0.1948,"a":0.3},{"t":0.1950,"a":0.75},{"t":0.1952,"a":0.8},{"t":0.1954,"a":0.2},{"t":0.1956,"a":-0.1},{"t":0.1958,"a":0.4},
{"t":0.1960,"a":0.5},{"t":0.1962,"a":0.1},{"t":0.1964,"a":-0.4},{"t":0.1966,"a":0.15},{"t":0.1968,"a":0.3},{"t":0.1970,"a":0.6},{"t":0.1972,"a":0.9},{"t":0.1974,"a":0.2},{"t":0.1976,"a":-0.2},{"t":0.1978,"a":0.3},{"t":0.1980,"a":0.4},{"t":0.1982,"a":-0.1},{"t":0.1984,"a":-0.7},{"t":0.1986,"a":-0.2},{"t":0.1988,"a":0.6},{"t":0.1990,"a":0.1},{"t":0.1992,"a":0.0},{"t":0.1994,"a":0.5},{"t":0.1996,"a":0.3},{"t":0.1998,"a":-0.1},
{"t":0.2000,"a":0.1}
    ]
  },
  "layer": [
    {
      "data": {"name": "signal"},
      "mark": {"type": "line", "strokeWidth": 0.7, "opacity": 0.85, "clip": true},
      "encoding": {
        "x": {
          "field": "t", "type": "quantitative",
          "scale": {"domain": [0, 0.2], "nice": false, "zero": false},
          "axis": {
            "title": "Time/s", "values": [0, 0.02, 0.04, 0.06, 0.08, 0.1, 0.12, 0.14, 0.16, 0.18, 0.2],
            "format": ".2f", "tickSize": 6, "labelPadding": 4, "titlePadding": 8,
            "labelFlush": false, "labelOverlap": false
          }
        },
        "y": {
          "field": "a", "type": "quantitative",
          "scale": {"domain": [-2, 2], "nice": false, "zero": false},
          "axis": {
            "title": "Amplitude", "values": [-2, -1, 0, 1, 2], "tickSize": 6,
            "labelExpr": "replace(datum.label, '\u2212', '-')",
            "labelPadding": 6, "titlePadding": 5, "labelFlush": false, "labelOverlap": false
          }
        },
        "color": {
          "datum": "Bearing wear",
          "scale": {"range": ["#f3b8ad"]},
          "legend": {
            "orient": "none", "legendX": 254, "legendY": 17, "title": null,
            "symbolType": "stroke", "symbolSize": 2900, "symbolStrokeWidth": 2.5,
            "labelFont": "Liberation Serif", "labelFontSize": 24, "labelColor": "#f2cdc7",
            "labelOffset": 10
          }
        }
      }
    },
    {
      "data": {"values": [{"t": 0, "a": 0}]},
      "mark": {"type": "point", "opacity": 0},
      "encoding": {
        "x": {
          "field": "t", "type": "quantitative",
          "axis": {
            "orient": "bottom", "title": null, "labels": false, "domain": false,
            "values": [0.01, 0.03, 0.05, 0.07, 0.09, 0.11, 0.13, 0.15, 0.17, 0.19], "tickSize": 4
          }
        },
        "y": {
          "field": "a", "type": "quantitative",
          "axis": {
            "orient": "left", "title": null, "labels": false, "domain": false,
            "values": [-1.5, -0.5, 0.5, 1.5], "tickSize": 4
          }
        }
      }
    }
  ],
  "resolve": {"axis": {"x": "independent", "y": "independent"}}
}
